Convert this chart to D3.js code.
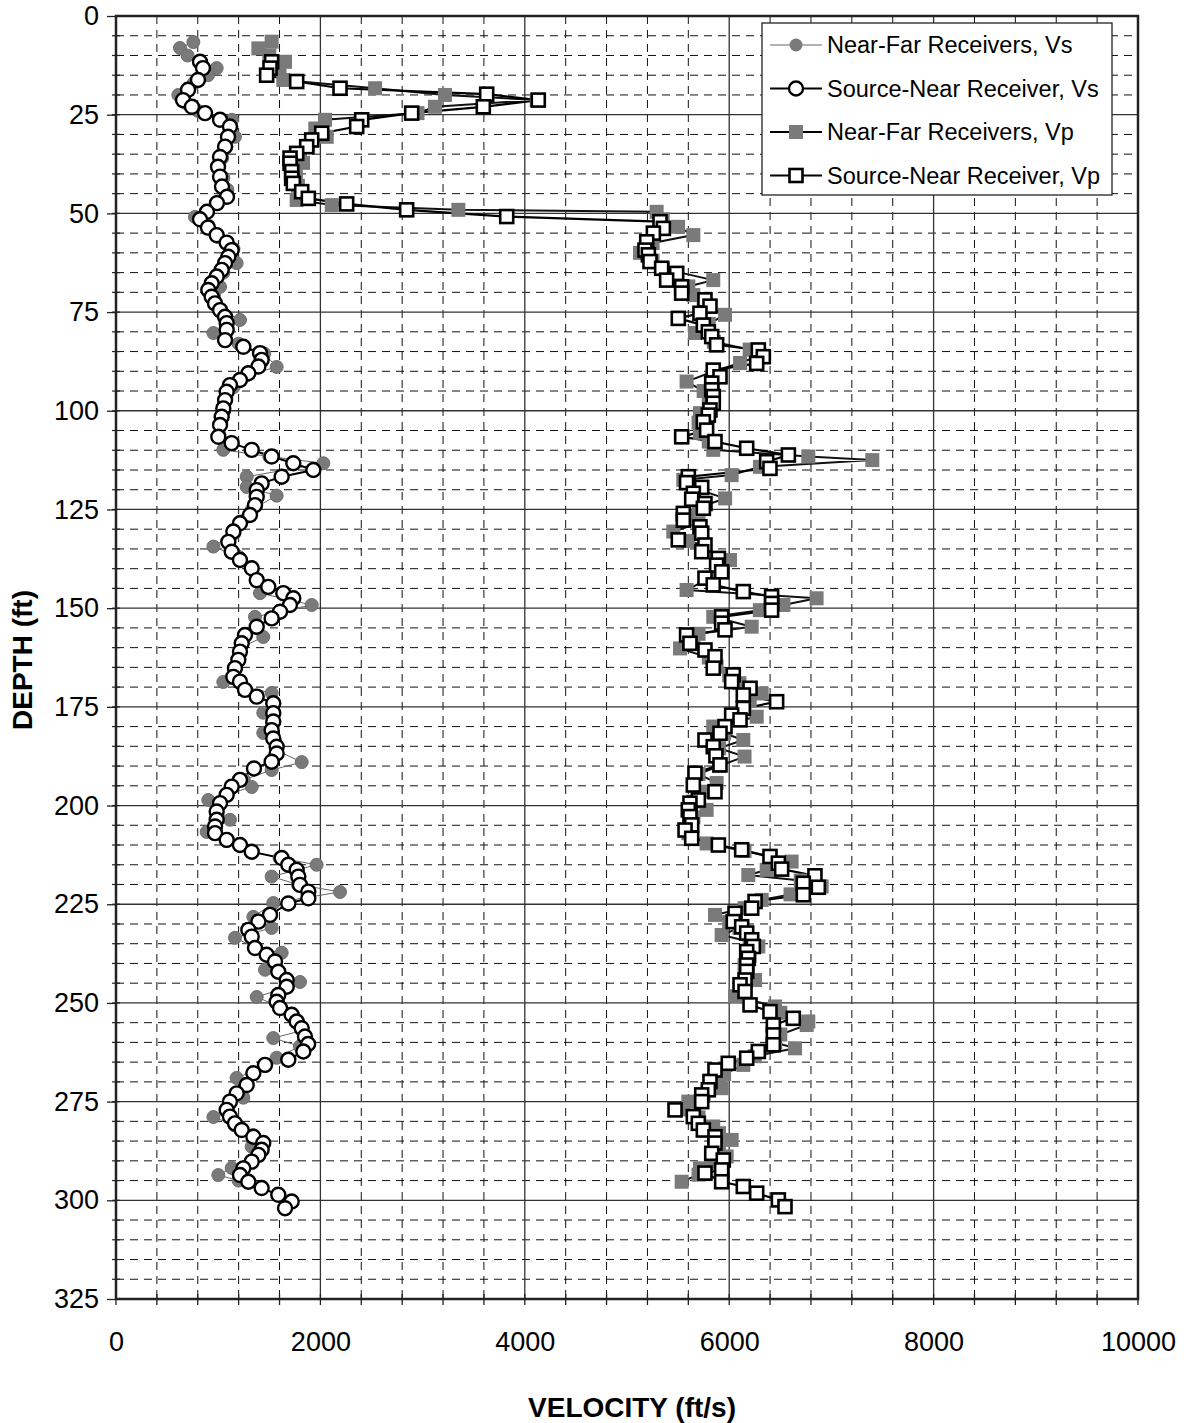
<!DOCTYPE html>
<html>
<head>
<meta charset="utf-8">
<script src="https://cdn.jsdelivr.net/npm/d3@7"></script>
<style>
  body { margin: 0; background: #fff; }
  svg { display: block; font-family: "Liberation Sans", Arial, sans-serif; }
</style>
</head>
<body>
<svg id="chart" width="1189" height="1423"></svg>
<script>
// ---- data: [depth ft, velocity ft/s] ----

// near-far receivers, Vs (grey dots)
var nfVs = [
  [6.6,757],[8.1,626],[10,700],[13.2,985],[15,900],[17,760],[20,610],[22,680],[24,800],
  [26.3,1135],[28,1130],[30.6,1164],[33,1080],[36,1040],[38,1010],[41,1050],[44,1090],
  [47,1000],[50.9,773],[53,900],[56,1000],[59,1150],[62.6,1180],[65,1050],[68.6,1018],
  [71,960],[74,1000],[77,1213],[80.3,953],[83,1200],[85.5,1450],[88.9,1572],[91,1280],
  [94,1150],[97,1080],[100,1060],[103,1030],[106,1010],[109.9,1050],[111.6,1500],
  [113.3,2029],[116.7,1279],[119.3,1279],[121.5,1572],[125,1330],[128,1230],[131,1160],
  [134.4,953],[137,1200],[140,1330],[143,1380],[146.2,1409],[149.2,1915],[152.2,1360],
  [155,1380],[157.3,1441],[160,1220],[163,1200],[166,1160],[168.7,1050],[171.5,1523],
  [174,1530],[176.5,1441],[179,1530],[181.6,1441],[184,1560],[186,1570],[189,1817],
  [191,1523],[193.5,1250],[195.3,1328],[198.6,903],[201,990],[203.6,1115],[206.7,887],
  [209,1080],[211.7,1330],[213.3,1600],[215,1963],[218,1523],[220,1780],[221.9,2192],
  [224.7,1539],[228.2,1344],[231,1523],[233.5,1164],[236,1360],[237.3,1621],[239.5,1560],
  [241.6,1458],[244.7,1800],[246,1680],[248.5,1377],[251,1600],[253,1710],[255,1770],
  [257,1820],[258.9,1539],[261,1800],[263.9,1572],[266,1460],[269,1180],[271,1280],
  [274,1246],[276,1100],[278.9,953],[281,1160],[283.5,1340],[286.4,1328],[288.5,1400],
  [290,1330],[291.8,1132],[293.6,1001],[295,1200]
];

// source-near receiver, Vs (open circles)
var snVs = [
  [11.6,822],[13.2,851],[16.2,802],[18.7,705],[21.3,656],[23,743],[24.6,871],[26.3,1018],
  [28,1115],[30.6,1096],[33.1,1067],[35.7,1018],[38.2,998],[40.7,1018],[43.2,1037],
  [45.8,1086],[47.4,988],[49.6,890],[51.5,822],[53.6,900],[55.5,985],[57.4,1083],
  [59.3,1132],[61,1099],[62.6,1067],[64.3,1034],[66,985],[67.7,936],[69.4,903],[71.1,936],
  [72.8,969],[74.5,1018],[76.2,1067],[77.8,1083],[79.5,1083],[82.1,1067],[83.8,1246],
  [85.4,1409],[87.1,1425],[88.8,1393],[90.5,1295],[92.2,1213],[93.5,1115],[95.2,1083],
  [97.3,1067],[99.4,1050],[101.5,1034],[103.6,1018],[106.6,1001],[108.2,1132],[109.9,1328],
  [111.6,1523],[113.3,1735],[115,1931],[116.7,1621],[118.4,1425],[120.1,1377],[121.8,1377],
  [123.9,1360],[126.4,1311],[128.5,1213],[130.6,1148],[133.2,1099],[135.7,1132],[137.8,1213],
  [139.9,1328],[142.9,1377],[144.6,1490],[146.2,1637],[147.5,1735],[149.2,1702],[150.9,1605],
  [152.6,1523],[154.7,1377],[156.8,1262],[158.9,1230],[161,1213],[163.1,1197],[165.2,1164],
  [167.4,1148],[168.6,1213],[170.7,1262],[172.4,1377],[174.1,1539],[176.6,1539],[178.7,1539],
  [180.9,1523],[183,1539],[185.1,1572],[186.8,1572],[188.9,1523],[190.6,1350],[193.5,1213],
  [195.2,1132],[197.3,1083],[199.4,1018],[201.5,985],[203.6,985],[205.3,969],[207,969],
  [208.7,1083],[210,1213],[211.7,1328],[213.3,1621],[215,1686],[216.3,1768],[218,1784],
  [220.1,1800],[221.8,1882],[223.5,1882],[224.8,1686],[227.7,1507],[229.4,1393],[231.5,1295],
  [233.2,1328],[236.1,1360],[237.8,1474],[239.5,1556],[242.1,1588],[244.2,1670],[245.9,1670],
  [248,1588],[249.7,1572],[251.3,1605],[253,1719],[254.7,1768],[256.4,1817],[258.5,1849],
  [260.4,1880],[262.3,1833],[264.4,1686],[265.7,1458],[267.8,1344],[270.8,1279],[272.9,1181],
  [275,1115],[277.1,1083],[278.8,1115],[280.5,1164],[282.2,1230],[283.9,1344],[285.5,1441],
  [287.2,1425],[288.5,1393],[290.2,1328],[291.9,1246],[293.6,1213],[295.3,1295],[296.9,1425],
  [298.6,1588],[300.3,1719],[302,1654]
];

// near-far receivers, Vp (grey squares)
var nfVp = [
  [6.5,1523],[8.2,1393],[10,1500],[11.6,1654],[13.5,1600],[16.2,1637],[18.3,2535],[20,3219],
  [21.3,4117],[23,3121],[24.6,2950],[26.3,2045],[28.5,1950],[30.6,2062],[33,1880],[35,1800],
  [37.2,1830],[40,1760],[43,1780],[46.6,1768],[47.9,2111],[49.1,3350],[49.6,5290],[51.5,5350],
  [53.4,5500],[55.5,5649],[57.5,5250],[60,5127],[62,5250],[64,5350],[66.9,5844],[68.5,5600],
  [70.7,5649],[73,5750],[75.7,5959],[78,5800],[80.3,5665],[82.5,5850],[84.5,6200],[86,6300],
  [87.9,6106],[90,5850],[92.6,5583],[95,5750],[97.5,5800],[100.6,5714],[103,5700],[105.6,5714],
  [107.8,5800],[109.9,5844],[111.6,6774],[112.5,7400],[114.2,6301],[116.3,6024],[117.5,5551],
  [119.5,5650],[122.2,5960],[124.5,5700],[127,5600],[128.5,5700],[130.6,5453],[133,5600],
  [135.5,5750],[137.8,6008],[140,5900],[142.5,5800],[145.4,5583],[147.5,6855],[149.2,6530],
  [150.5,6300],[152.2,5844],[154.7,6220],[156.5,5700],[158.5,5650],[160.2,5519],[162.5,5800],
  [164.8,5877],[167,6000],[169,6100],[171.6,6318],[173.5,6200],[175.5,6150],[177.5,6269],
  [180,5844],[181.7,5950],[183.4,6138],[185.5,5900],[187.6,6150],[190,5900],[192,5700],
  [194.3,5877],[196.5,5750],[199,5650],[201.1,5779],[203,5650],[205,5620],[207,5600],
  [209.6,5779],[211.5,6150],[213,6400],[214.2,6611],[216.3,6367],[217.6,6187],[219,6700],
  [220.5,6905],[222.5,6600],[223.9,6318],[226,6150],[227.7,5861],[229.5,6000],[231,6100],
  [232.8,5926],[234.5,6200],[235.7,6285],[238,6200],[240.5,6150],[242.5,6180],[244.2,6253],
  [246.5,6150],[248.3,6057],[250.9,6448],[252.5,6500],[254.7,6774],[255.6,6758],[258,6500],
  [260,6450],[261.5,6644],[263.5,6250],[265.7,6138],[268,5950],[270,5850],[271.6,5926],
  [273.5,5750],[275,5600],[277,5550],[279,5700],[281.3,5844],[283,5900],[284.7,6024],
  [286.5,5900],[288.9,5975],[290.5,5850],[291.9,5714],[293.5,5700],[295.3,5535]
];

// source-near receiver, Vp (open squares)
var snVp = [
  [11.6,1523],[13.2,1507],[15,1474],[16.6,1768],[18.3,2192],[19.8,3627],[21.3,4132],[23,3594],
  [24.6,2893],[26.3,2404],[28,2355],[29.7,2013],[31.4,1915],[33.1,1866],[34.8,1768],[36,1703],
  [37.3,1703],[39.4,1719],[41.1,1719],[42.4,1735],[44.5,1817],[46.2,1882],[47.6,2257],
  [49.1,2844],[50.8,3823],[52.1,5323],[53.8,5356],[55,5258],[57.2,5193],[59.3,5176],[60.5,5209],
  [62.2,5225],[63.9,5339],[65.2,5486],[66.9,5388],[68.6,5535],[70.2,5535],[71.9,5763],
  [73.5,5812],[75.3,5714],[76.6,5502],[78.3,5747],[80,5796],[81.2,5829],[83.3,5877],[84.6,6285],
  [86.3,6334],[88,6269],[89.7,5844],[91.4,5910],[93,5829],[94.7,5829],[96.4,5844],[98.1,5844],
  [99.8,5812],[101.1,5796],[102.8,5747],[104.9,5779],[106.6,5535],[107.8,5861],[109.5,6171],
  [111.2,6579],[112.9,6367],[114.6,6399],[116.7,5600],[118.2,5583],[119.4,5731],[120.9,5649],
  [122.4,5633],[123.5,5763],[124.7,5747],[126,5551],[127.7,5551],[129.4,5714],[131,5731],
  [132.7,5502],[134,5763],[135.7,5731],[137.4,5894],[139.1,5877],[140.8,5926],[142.4,5763],
  [144.1,5844],[145.8,6138],[147.1,6415],[148.8,6415],[150.5,6415],[152.2,5926],[153.8,5926],
  [155.5,5959],[156.8,5583],[158.9,5616],[160.6,5763],[162.3,5861],[165.2,5844],[166.9,6040],
  [168.6,6024],[170.3,6204],[172,6138],[173.7,6464],[175.4,6138],[177.1,6024],[178.3,6106],
  [180,5959],[181.7,5910],[183.4,5763],[185.1,5844],[187.4,5870],[189.7,5910],[191.8,5665],
  [194.8,5649],[196.5,5861],[198.6,5698],[199.4,5616],[201.1,5600],[202.8,5616],[204.9,5633],
  [206.2,5568],[208.3,5633],[210,5894],[211.2,6122],[212.9,6399],[214.6,6481],[216.1,6513],
  [217.8,6839],[219.7,6725],[220.7,6872],[222.6,6725],[224.3,6253],[226,6220],[227.3,6057],
  [229.4,6040],[230.7,6122],[232.3,6171],[234,6220],[235.7,6236],[237,6171],[238.7,6187],
  [240.4,6171],[242,6171],[244.2,6155],[245.4,6106],[247.1,6155],[250.5,6204],[252.2,6399],
  [253.9,6627],[255.6,6432],[258.1,6432],[260.6,6432],[262.3,6285],[264,6171],[265.3,5991],
  [267,5861],[269.9,5812],[272,5796],[273.3,5731],[275,5731],[277.1,5470],[278.8,5649],
  [280.5,5698],[282.2,5747],[283.9,5861],[285.5,5861],[288.1,5829],[289.8,5942],[292.3,5926],
  [293.1,5763],[295.3,5926],[296.5,6138],[298.2,6269],[299.9,6481],[301.6,6546]
];

var seriesNames = ["Near-Far Receivers, Vs", "Source-Near Receiver, Vs",
                   "Near-Far Receivers, Vp", "Source-Near Receiver, Vp"];
var velTicks = [0, 2000, 4000, 6000, 8000, 10000];
var depthTicks = [0, 25, 50, 75, 100, 125, 150, 175, 200, 225, 250, 275, 300, 325];

// ---- layout ----
var L = 116, R = 1138, T = 16, B = 1299;
var grey = "#7a7a7a";

var svg = d3.select("#chart");
var x = d3.scaleLinear().domain([0, 10000]).range([L, R]);
var y = d3.scaleLinear().domain([0, 325]).range([T, B]);

// minor dashed grid
var grid = svg.append("g");
grid.selectAll(".vminor").data(d3.range(400, 10000, 400).filter(function(v){ return v % 2000 != 0; }))
  .enter().append("line")
    .attr("x1", function(d){ return x(d); }).attr("x2", function(d){ return x(d); })
    .attr("y1", T).attr("y2", B)
    .attr("stroke", "#111").attr("stroke-width", 1).attr("stroke-dasharray", "8,6");
grid.selectAll(".hminor").data(d3.range(5, 325, 5).filter(function(v){ return v % 25 != 0; }))
  .enter().append("line")
    .attr("x1", L).attr("x2", R)
    .attr("y1", function(d){ return y(d); }).attr("y2", function(d){ return y(d); })
    .attr("stroke", "#111").attr("stroke-width", 1).attr("stroke-dasharray", "8,6");
// major solid grid
grid.selectAll(".vmajor").data(velTicks.slice(1, -1))
  .enter().append("line")
    .attr("x1", function(d){ return x(d); }).attr("x2", function(d){ return x(d); })
    .attr("y1", T).attr("y2", B)
    .attr("stroke", "#333").attr("stroke-width", 1.3);
grid.selectAll(".hmajor").data(depthTicks.slice(1, -1))
  .enter().append("line")
    .attr("x1", L).attr("x2", R)
    .attr("y1", function(d){ return y(d); }).attr("y2", function(d){ return y(d); })
    .attr("stroke", "#333").attr("stroke-width", 1.3);

// frame
svg.append("rect").attr("x", L).attr("y", T).attr("width", R - L).attr("height", B - T)
  .attr("fill", "none").attr("stroke", "#222").attr("stroke-width", 2.5);

// axes
var xAxis = d3.axisBottom(x).tickValues(velTicks).tickSize(0).tickFormat(d3.format("d"));
var gx = svg.append("g").attr("transform", "translate(0," + B + ")").call(xAxis);
gx.select(".domain").remove();
gx.selectAll("text").attr("dy", 0).attr("y", 52).attr("font-size", 27).attr("fill", "#000")
  .attr("font-family", "Liberation Sans, Arial, sans-serif");
// x ticks every 400 crossing the axis
svg.append("g").selectAll("line").data(d3.range(0, 10001, 400))
  .enter().append("line")
    .attr("x1", function(d){ return x(d); }).attr("x2", function(d){ return x(d); })
    .attr("y1", B - 5).attr("y2", B + 6).attr("stroke", "#222").attr("stroke-width", 1.3);

var yAxis = d3.axisLeft(y).tickValues(depthTicks).tickSize(9).tickPadding(8);
var gy = svg.append("g").attr("transform", "translate(" + L + ",0)").call(yAxis);
gy.select(".domain").remove();
gy.selectAll("line").attr("stroke", "#222").attr("stroke-width", 1.3);
gy.selectAll("text").attr("font-size", 27).attr("fill", "#000")
  .attr("font-family", "Liberation Sans, Arial, sans-serif");
svg.append("g").selectAll("line").data(d3.range(5, 325, 5))
  .enter().append("line")
    .attr("x1", L - 4).attr("x2", L + 4)
    .attr("y1", function(d){ return y(d); }).attr("y2", function(d){ return y(d); })
    .attr("stroke", "#222").attr("stroke-width", 1.2);

// axis titles
svg.append("text").attr("x", (L + R) / 2 + 5).attr("y", 1417).attr("text-anchor", "middle")
  .attr("font-size", 28).attr("font-weight", "bold").text("VELOCITY (ft/s)");
svg.append("text").attr("transform", "translate(32," + 660 + ") rotate(-90)")
  .attr("text-anchor", "middle").attr("font-size", 28).attr("font-weight", "bold").text("DEPTH (ft)");

// ---- series ----
var line = d3.line().x(function(d){ return x(d[1]); }).y(function(d){ return y(d[0]); });
var plot = svg.append("g");

plot.append("path").datum(nfVs).attr("d", line).attr("fill", "none")
  .attr("stroke", "#666").attr("stroke-width", 1);
plot.append("path").datum(nfVp).attr("d", line).attr("fill", "none")
  .attr("stroke", "#111").attr("stroke-width", 2);
plot.append("path").datum(snVs).attr("d", line).attr("fill", "none")
  .attr("stroke", "#000").attr("stroke-width", 2);
plot.append("path").datum(snVp).attr("d", line).attr("fill", "none")
  .attr("stroke", "#000").attr("stroke-width", 2.2);

plot.append("g").selectAll("circle").data(nfVs).enter().append("circle")
  .attr("cx", function(d){ return x(d[1]); }).attr("cy", function(d){ return y(d[0]); })
  .attr("r", 6.5).attr("fill", grey).attr("stroke", "#6e6e6e").attr("stroke-width", 1);
plot.append("g").selectAll("rect").data(nfVp).enter().append("rect")
  .attr("x", function(d){ return x(d[1]) - 7; }).attr("y", function(d){ return y(d[0]) - 7; })
  .attr("width", 14).attr("height", 14).attr("fill", grey);
plot.append("g").selectAll("circle").data(snVs).enter().append("circle")
  .attr("cx", function(d){ return x(d[1]); }).attr("cy", function(d){ return y(d[0]); })
  .attr("r", 7).attr("fill", "#fff").attr("stroke", "#000").attr("stroke-width", 2.4);
plot.append("g").selectAll("rect").data(snVp).enter().append("rect")
  .attr("x", function(d){ return x(d[1]) - 6.5; }).attr("y", function(d){ return y(d[0]) - 6.5; })
  .attr("width", 13).attr("height", 13).attr("fill", "#fff").attr("stroke", "#000").attr("stroke-width", 2.6);

// ---- legend ----
var lg = svg.append("g").attr("transform", "translate(762,23)");
lg.append("rect").attr("width", 350).attr("height", 172).attr("fill", "#fff")
  .attr("stroke", "#222").attr("stroke-width", 1.3);
seriesNames.forEach(function(name, i) {
  var cy = 22 + i * 43.5;
  var row = lg.append("g").attr("transform", "translate(0," + cy + ")");
  row.append("line").attr("x1", 8).attr("x2", 60).attr("y1", 0).attr("y2", 0)
    .attr("stroke", i == 0 ? "#666" : "#000").attr("stroke-width", i == 0 ? 1.2 : 2.2);
  if (i == 0) row.append("circle").attr("cx", 34).attr("r", 6.5).attr("fill", grey);
  if (i == 1) row.append("circle").attr("cx", 34).attr("r", 7).attr("fill", "#fff")
    .attr("stroke", "#000").attr("stroke-width", 2.4);
  if (i == 2) row.append("rect").attr("x", 27).attr("y", -7).attr("width", 14).attr("height", 14).attr("fill", grey);
  if (i == 3) row.append("rect").attr("x", 27.5).attr("y", -6.5).attr("width", 13).attr("height", 13)
    .attr("fill", "#fff").attr("stroke", "#000").attr("stroke-width", 2.6);
  row.append("text").attr("x", 65).attr("y", 8).attr("font-size", 23.5).text(name);
});
</script>
</body>
</html>
